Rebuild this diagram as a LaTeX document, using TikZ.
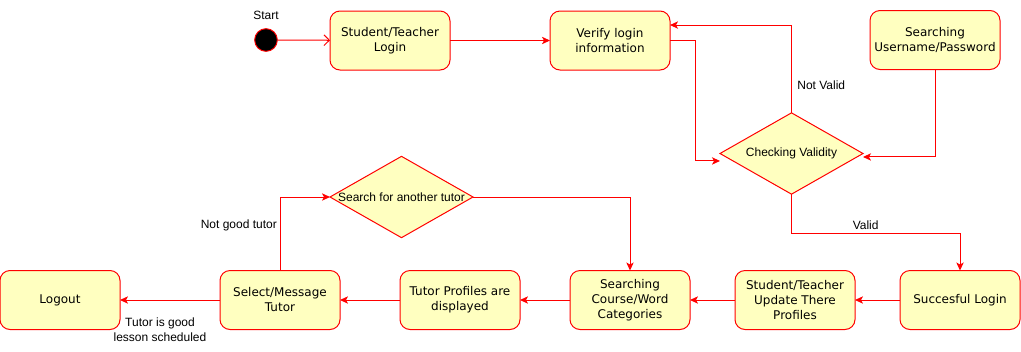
\documentclass[tikz,border=0pt]{standalone}
\usepackage{fontspec}
\setmainfont{Liberation Sans}
\newfontfamily\boxfont{DejaVu Sans}
\usetikzlibrary{arrows.meta,shapes.geometric}

\definecolor{actfill}{HTML}{FFFFC0}
\definecolor{actline}{HTML}{FF0000}

\tikzset{
  activity/.style={draw=actline,fill=actfill,line width=0.75pt,
    rounded corners=7.5pt,minimum width=90pt,minimum height=44.25pt,
    inner sep=1pt,outer sep=0pt,align=center,
    font=\boxfont\fontsize{9}{11.25}\selectfont},
  decision/.style={diamond,draw=actline,fill=actfill,line width=0.75pt,
    minimum width=107.25pt,minimum height=61pt,inner sep=0pt,outer sep=0pt},
  flow/.style={draw=actline,line width=0.75pt,
    -{Stealth[length=6pt,width=5.5pt,inset=1.5pt]}},
  elabel/.style={font=\fontsize{9}{11.25}\selectfont,inner sep=2pt,align=center}
}

\begin{document}
\begin{tikzpicture}[x=0.75pt,y=-0.75pt,every node/.style={font=\fontsize{9}{11.25}\selectfont}]
  \useasboundingbox (0,0) rectangle (1021,351);

  % Top row: login and validation
  \node[circle,fill=black,draw=actline,line width=0.75pt,minimum size=17pt,
    inner sep=0pt,label={[yshift=3pt]above:Start}] (start) at (266,40) {};
  \node[activity] (login)  at (390,40.5) {Student/Teacher\\Login};
  \node[activity] (verify) at (610,40.5) {Verify login\\information};
  \node[activity,minimum width=97.5pt] (userpw) at (935,40)
    {Searching\\Username/Password};
  \node[decision,label=center:{Checking Validity}] (chk) at (791.5,153.5) {};

  \draw[draw=actline,line width=0.75pt,-{Straight Barb[length=4pt,width=8pt]}]
    (start) -- (login);
  \draw[flow] (login) -- (verify);
  \draw[flow] (verify.east) -- ++(25,0) |- ([yshift=-5.6pt]chk.west);
  \draw[flow] (chk.north) |- ([yshift=11.6pt]verify.east)
    node[elabel,pos=0.16,right=2pt] {Not Valid};
  \draw[flow] (userpw.south) |- ([yshift=-2.6pt]chk.east);

  % Bottom row: profiles, tutor search and logout
  \node[activity] (ok)     at (960,300) {Succesful Login};
  \node[activity] (upd)    at (795,300) {Student/Teacher\\Update There\\Profiles};
  \node[activity] (crs)    at (630,300) {Searching\\Course/Word\\Categories};
  \node[activity] (prof)   at (460,300) {Tutor Profiles are\\displayed};
  \node[activity] (sel)    at (280,300) {Select/Message\\Tutor};
  \node[activity] (logout) at (60,300)  {Logout};
  \node[decision,label=center:{Search for another tutor}] (srch) at (401.5,197) {};

  \draw[flow] (chk.south) -- ++(0,39) -| (ok.north)
    node[elabel,pos=0.22,above] {Valid};
  \foreach \a/\b in {ok/upd,upd/crs,crs/prof,prof/sel}
    \draw[flow] (\a) -- (\b);
  \draw[flow] (sel) -- (logout)
    node[elabel,pos=0.6,below=11pt] {Tutor is good\\lesson scheduled};
  \draw[flow] (sel.north) |- (srch.west)
    node[elabel,pos=0.31,left] {Not good tutor};
  \draw[flow] (srch.east) -| (crs.north);
\end{tikzpicture}
\end{document}
